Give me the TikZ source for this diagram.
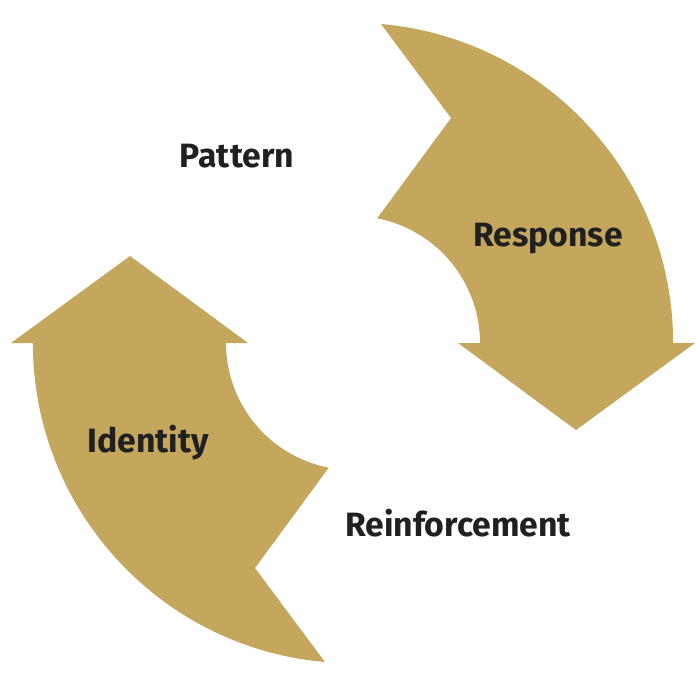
\documentclass[tikz,border=0pt]{standalone}
\usepackage{fontspec}
\setmainfont{Fira Sans}
\definecolor{gold}{HTML}{C4A65D}
\definecolor{ink}{HTML}{202020}
\tikzset{
  arrowshape/.style={fill=gold, draw=none},
  lbl/.style={text=ink, font=\fontsize{25.3}{28}\selectfont\bfseries, inner sep=0pt, anchor=base}
}
\begin{document}
\begin{tikzpicture}[x=0.75pt,y=-0.75pt]
\useasboundingbox (0,0) rectangle (696,687);
% upper-right arrow
\fill[arrowshape] (381,24) arc[start angle=-85, end angle=0, radius=320]
  -- (695,343) -- (576,430) -- (458,343) -- (480,343)
  arc[start angle=0, end angle=-79, radius=127]
  -- (451,118) -- cycle;
% lower-left arrow
\fill[arrowshape] (325,662) arc[start angle=95, end angle=180, radius=320]
  -- (11,343) -- (130,256) -- (248,343) -- (226,343)
  arc[start angle=180, end angle=101, radius=127]
  -- (255,568) -- cycle;
\node[lbl] (pattern) at (237,167) {Pattern};
\node[lbl] (response) at (548,246) {Response};
\node[lbl] (identity) at (148,452) {Identity};
\node[lbl] (reinf) at (458,536) {Reinforcement};
\end{tikzpicture}
\end{document}
